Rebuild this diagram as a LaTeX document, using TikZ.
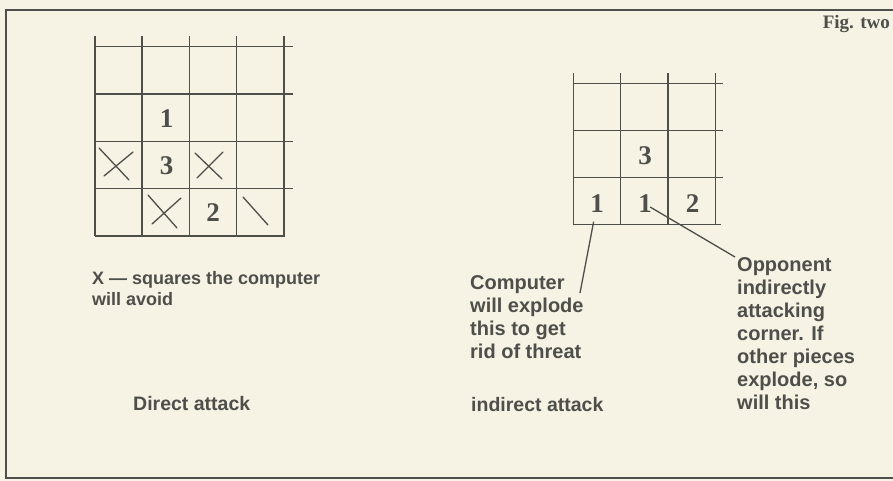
\documentclass[tikz,border=0pt]{standalone}
\usepackage{fontspec}
\newfontfamily\notefont{Liberation Sans}
\newfontfamily\figfont{Liberation Serif}
\usetikzlibrary{positioning}
\definecolor{paper}{RGB}{246,242,228}
\definecolor{ink}{RGB}{78,78,74}

\begin{document}
\begin{tikzpicture}[x=1pt, y=-1pt,
    gridline/.style={ink, line width=1.5pt},
    cross/.style={ink, line width=1.3pt, line cap=round},
    digit/.style={ink, inner sep=2pt, font=\figfont\bfseries\fontsize{27}{27}\selectfont},
    note/.style={ink, anchor=base west, align=left, inner sep=0pt,
                 font=\notefont\bfseries\fontsize{20}{23}\selectfont},
    leader/.style={ink, line width=1.3pt}]

    % paper and frame
    \fill[paper] (0,0) rectangle (893,481);
    \useasboundingbox (0,0) rectangle (893,481);
    \draw[ink, line width=2pt] (893,10) -- (6,10) -- (6,478) -- (893,478);
    \node[ink, anchor=base east, inner sep=0pt, font=\figfont\bfseries\fontsize{19}{19}\selectfont]
        (fig) at (890,29) {Fig. two};

    % direct attack
    \begin{scope}
        \draw[gridline] (95,36) -- (95,236) (142.2,36) -- (142.2,236) (189.4,36) -- (189.4,236)
                        (236.6,36) -- (236.6,236) (283.8,36) -- (283.8,236);
        \draw[gridline] (95,46.7) -- (293,46.7) (95,94) -- (293,94) (95,141.3) -- (293,141.3)
                        (95,188.6) -- (293,188.6) (95,235.9) -- (284.5,235.9);

        \node[digit] (l1) at (166.5,119) {1};
        \node[digit] (l3) at (166.5,166) {3};
        \node[digit] (l2) at (213,213) {2};

        % squares to avoid
        \draw[cross] (99,148) -- (129,180) (104,176) -- (133,152);
        \draw[cross] (195,153) -- (222,179) (197,178) -- (223,152);
        \draw[cross] (148,195) -- (177,228) (152,224) -- (181,198);
        \draw[cross] (243,197) -- (268,225);

        % base anchor sits on the last line
        \node[note, font=\notefont\bfseries\fontsize{18}{21}\selectfont] (avoid) at (92,305)
            {X — squares the computer\\will avoid};
        \node[note, font=\notefont\bfseries\fontsize{19.5}{23}\selectfont] (direct) at (133,410) {Direct attack};
    \end{scope}

    % indirect attack
    \begin{scope}
        \draw[gridline] (573.3,73) -- (573.3,224.3) (620.7,73) -- (620.7,224.3)
                        (668.1,73) -- (668.1,224.3) (715.5,73) -- (715.5,224.3);
        \draw[gridline] (573.3,83.3) -- (723,83.3) (573.3,130.3) -- (723,130.3)
                        (573.3,177.3) -- (723,177.3) (573.3,224.3) -- (721,224.3);

        \node[digit] (r3) at (645,156) {3};
        \node[digit] (ra) at (597,204) {1};
        \node[digit] (rb) at (645,204) {1};
        \node[digit] (r2) at (692.5,204) {2};

        \node[note] (comp) at (470,358) {Computer\\will explode\\this to get\\rid of threat};
        \node[note] (opp) at (737,409) {Opponent\\indirectly\\attacking\\corner. If\\other pieces\\explode, so\\will this};
        \node[note, font=\notefont\bfseries\fontsize{19.5}{23}\selectfont] (indirect) at (471,411) {indirect attack};

        \coordinate (cpend) at (580,293);
        \coordinate (opend) at (735,257);
        \draw[leader, shorten <=18pt] (ra.center) -- (cpend);
        \draw[leader, shorten <=6pt] (rb.center) -- (opend);
    \end{scope}
\end{tikzpicture}
\end{document}
